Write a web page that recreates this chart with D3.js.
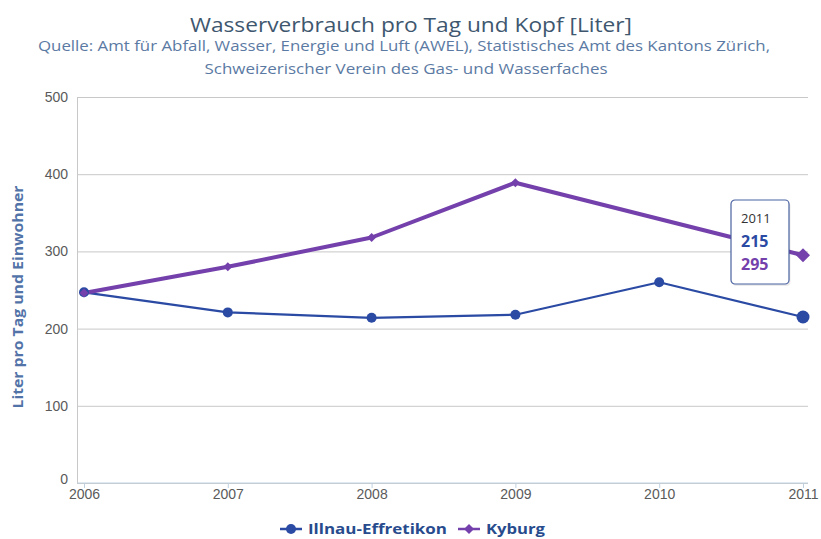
<!DOCTYPE html>
<html>
<head>
<meta charset="utf-8">
<script src="https://cdn.jsdelivr.net/npm/d3@7/dist/d3.min.js"></script>
<style>
  html, body { margin: 0; padding: 0; background: #fff; }
  svg { display: block; font-family: "Open Sans", "DejaVu Sans", sans-serif; }
</style>
</head>
<body>
<svg id="chart" width="821" height="539"></svg>
<script>
// Water use per day and inhabitant (litres)
const years = [2006, 2007, 2008, 2009, 2010, 2011];
const illnau = [247, 221, 214, 218, 260, 215];
const kyburg = [246, 280, 318, 389, null, 295];
const yTicks = [0, 100, 200, 300, 400, 500];
const seriesNames = ["Illnau-Effretikon", "Kyburg"];
const seriesColors = ["#2a4aa3", "#7440ab"];
const tooltipYear = 2011;

const svg = d3.select("#chart");
const W = 821, H = 539;
const plot = { left: 77, top: 97, right: 808, bottom: 483 };

const x = d3.scaleLinear().domain([2006, 2011]).range([84, 803]);
const y = d3.scaleLinear().domain([0, 500]).range([plot.bottom, plot.top]);

// Narrow-set text: fixed width, glyphs squeezed to fit
function fitText(sel, len) {
  return sel.attr("textLength", len).attr("lengthAdjust", "spacingAndGlyphs");
}

// Title and subtitle
fitText(svg.append("text")
  .attr("x", 411).attr("y", 32)
  .attr("text-anchor", "middle")
  .style("font-size", "20px").style("fill", "#3e576f")
  .text("Wasserverbrauch pro Tag und Kopf [Liter]"), 442);
fitText(svg.append("text").attr("x", 404).attr("y", 51)
  .attr("text-anchor", "middle")
  .style("font-size", "14.5px").style("fill", "#5b7aa3")
  .text("Quelle: Amt für Abfall, Wasser, Energie und Luft (AWEL), Statistisches Amt des Kantons Zürich,"), 732);
fitText(svg.append("text").attr("x", 406).attr("y", 74)
  .attr("text-anchor", "middle")
  .style("font-size", "14.5px").style("fill", "#5b7aa3")
  .text("Schweizerischer Verein des Gas- und Wasserfaches"), 403);

// Horizontal grid lines and y labels
const yAxis = d3.axisLeft(y).tickValues(yTicks).tickSize(-(plot.right - plot.left)).tickPadding(9);
const gy = svg.append("g").attr("transform", `translate(${plot.left},0)`).call(yAxis);
gy.select(".domain").attr("stroke", "#c8c8c8");
gy.selectAll(".tick line").attr("stroke", "#c8c8c8").attr("stroke-width", 1);
gy.selectAll(".tick text")
  .style("font-size", "14px").style("fill", "#5a5a5a")
  .attr("dy", d => d === 0 ? "0.05em" : "0.32em");

// X axis
const xAxis = d3.axisBottom(x).tickValues(years).tickFormat(d3.format("d")).tickSize(5).tickPadding(1);
const gx = svg.append("g").attr("transform", `translate(0,${plot.bottom})`).call(xAxis);
gx.select(".domain").remove();
gx.append("line").attr("x1", plot.left).attr("x2", plot.right)
  .attr("stroke", "#c0d0e0").attr("stroke-width", 1);
gx.selectAll(".tick line").attr("stroke", "#c0d0e0");
gx.selectAll(".tick text").style("font-size", "14px").style("fill", "#5a5a5a");

// Y axis title
fitText(svg.append("text")
  .attr("transform", `translate(23,${297}) rotate(-90)`)
  .attr("text-anchor", "middle")
  .style("font-size", "15px").style("font-weight", "bold").style("fill", "#5273a8")
  .text("Liter pro Tag und Einwohner"), 223);

// Series lines
const illnauPts = years.map((yr, i) => ({ yr, v: illnau[i] })).filter(d => d.v != null);
const kyburgPts = years.map((yr, i) => ({ yr, v: kyburg[i] })).filter(d => d.v != null);
const line = d3.line().x(d => x(d.yr)).y(d => y(d.v));

svg.append("path").datum(illnauPts).attr("d", line)
  .attr("fill", "none").attr("stroke", seriesColors[0]).attr("stroke-width", 2.2)
  .attr("stroke-linejoin", "round");
svg.append("path").datum(kyburgPts).attr("d", line)
  .attr("fill", "none").attr("stroke", seriesColors[1]).attr("stroke-width", 4)
  .attr("stroke-linejoin", "round");

// Markers
const diamond = r => `M0,${-r}L${r},0L0,${r}L${-r},0Z`;
svg.append("g").selectAll("circle").data(illnauPts).join("circle")
  .attr("cx", d => x(d.yr)).attr("cy", d => y(d.v))
  .attr("r", d => d.yr === tooltipYear ? 6.5 : 5)
  .attr("fill", seriesColors[0]);
svg.append("g").selectAll("path").data(kyburgPts).join("path")
  .attr("transform", d => `translate(${x(d.yr)},${y(d.v)})`)
  .attr("d", d => diamond(d.yr === tooltipYear ? 7 : 4.5))
  .attr("fill", seriesColors[1]);

// Tooltip for the hovered year
const ti = years.indexOf(tooltipYear);
const tt = svg.append("g").attr("transform", "translate(731,200)");
tt.append("rect").attr("x", 1.5).attr("y", 2).attr("width", 58).attr("height", 84)
  .attr("rx", 4).attr("fill", "rgba(0,0,0,0.08)");
tt.append("rect").attr("x", 0).attr("y", 0).attr("width", 58).attr("height", 84)
  .attr("rx", 4).attr("fill", "#fff").attr("stroke", "#4a62a0").attr("stroke-width", 1.2);
tt.append("text").attr("x", 10).attr("y", 23)
  .style("font-size", "13px").style("fill", "#333").text(tooltipYear);
tt.append("text").attr("x", 10).attr("y", 47)
  .style("font-size", "16px").style("font-weight", "bold").style("fill", seriesColors[0])
  .text(illnau[ti]);
tt.append("text").attr("x", 10).attr("y", 70)
  .style("font-size", "16px").style("font-weight", "bold").style("fill", seriesColors[1])
  .text(kyburg[ti]);

// Legend
const legend = svg.append("g").attr("transform", "translate(280,529)");
const items = [
  { name: seriesNames[0], color: seriesColors[0], shape: "circle", x: 0, w: 139 },
  { name: seriesNames[1], color: seriesColors[1], shape: "diamond", x: 178, w: 59 }
];
items.forEach(it => {
  const g = legend.append("g").attr("transform", `translate(${it.x},0)`);
  g.append("line").attr("x1", 0).attr("x2", 22).attr("y1", 0).attr("y2", 0)
    .attr("stroke", it.color).attr("stroke-width", 2.5);
  if (it.shape === "circle") {
    g.append("circle").attr("cx", 11).attr("cy", 0).attr("r", 5).attr("fill", it.color);
  } else {
    g.append("path").attr("transform", "translate(11,0)").attr("d", diamond(5)).attr("fill", it.color);
  }
  fitText(g.append("text").attr("x", 28).attr("y", 5)
    .style("font-size", "15px").style("font-weight", "bold").style("fill", "#274b8d")
    .text(it.name), it.w);
});
</script>
</body>
</html>
